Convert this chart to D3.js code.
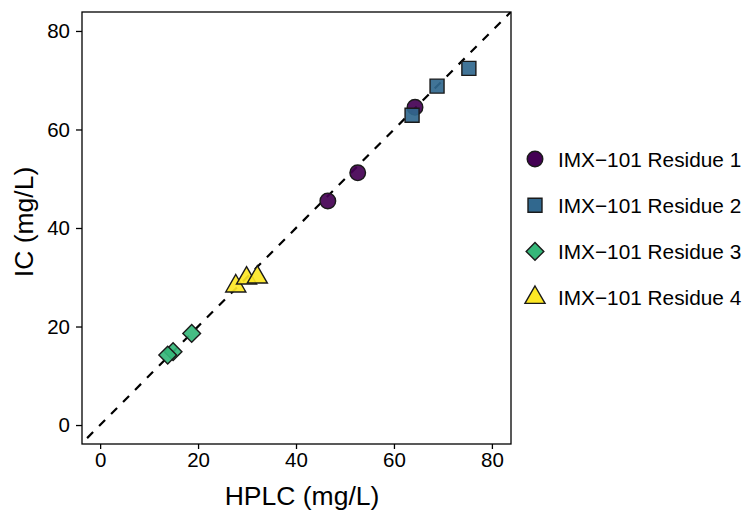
<!DOCTYPE html>
<html>
<head>
<meta charset="utf-8">
<script src="https://cdn.jsdelivr.net/npm/d3@7"></script>
<style>
  body { margin: 0; background: #fff; }
  svg text { font-family: "Liberation Sans", Arial, sans-serif; }
</style>
</head>
<body>
<svg width="747" height="510"></svg>
<script>
// data
const seriesNames = ["IMX\u2212101 Residue 1", "IMX\u2212101 Residue 2", "IMX\u2212101 Residue 3", "IMX\u2212101 Residue 4"]
const seriesColors = ["#440154", "#31688E", "#35B779", "#FDE725"]
const seriesShapes = ["circle", "square", "diamond", "triangle"]
const hplc1 = [46.5, 52.6, 64.3], ic1 = [45.5, 51.2, 64.5]
const hplc2 = [63.7, 68.8, 75.3], ic2 = [62.9, 68.8, 72.4]
const hplc3 = [18.7, 14.9, 13.8], ic3 = [18.6, 14.9, 14.2]
const hplc4 = [27.7, 29.9, 32.1], ic4 = [28.2, 29.8, 30.0]
const xTicks = [0, 20, 40, 60, 80]
const yTicks = [0, 20, 40, 60, 80]

const series = [[hplc1, ic1], [hplc2, ic2], [hplc3, ic3], [hplc4, ic4]]

let svg = d3.select("svg")
//panel
let L = 82, T = 12, R = 511, B = 444
let x = d3.scaleLinear().domain([-3.7, 83.9]).range([L, R])
let y = d3.scaleLinear().domain([-3.85, 83.85]).range([B, T])

//axes
let gx = svg.append("g").attr("transform", `translate(0,${B})`)
  .call(d3.axisBottom(x).tickValues(xTicks).tickSize(5).tickPadding(3))
let gy = svg.append("g").attr("transform", `translate(${L},0)`)
  .call(d3.axisLeft(y).tickValues(yTicks).tickSize(6).tickPadding(6))
;[gx, gy].forEach(g => {
  g.select(".domain").remove()
  g.selectAll(".tick line").attr("stroke", "#000").attr("stroke-width", 1.3)
  g.selectAll(".tick text").attr("fill", "#000").attr("font-size", 20.5)
})

//clip + dashed identity line
svg.append("clipPath").attr("id", "clip").append("rect")
  .attr("x", L).attr("y", T).attr("width", R - L).attr("height", B - T)
svg.append("line").attr("clip-path", "url(#clip)")
  .attr("x1", x(-10)).attr("y1", y(-10)).attr("x2", x(90)).attr("y2", y(90))
  .attr("stroke", "#000").attr("stroke-width", 2.2).attr("stroke-dasharray", "8.5 8.5")

//symbols
const sym = {
  circle: d3.symbol().type(d3.symbolCircle).size(Math.PI * 7.8 * 7.8),
  square: d3.symbol().type(d3.symbolSquare).size(14 * 14),
  diamond: d3.symbol().type(d3.symbolSquare).size(12.5 * 12.5),
  triangle: d3.symbol().type(d3.symbolTriangle).size(175)
}
const rot = s => s == "diamond" ? " rotate(45)" : ""

let pts = svg.append("g")
series.forEach((s, k) => {
  let data = s[0].map((v, i) => [v, s[1][i]])
  pts.selectAll(null).data(data).enter().append("path")
    .attr("d", sym[seriesShapes[k]]())
    .attr("transform", d => `translate(${x(d[0])},${y(d[1])})${rot(seriesShapes[k])}`)
    .attr("fill", seriesColors[k]).attr("fill-opacity", 0.92)
    .attr("stroke", "#1a1a1a").attr("stroke-width", 1.4)
})

//panel border
svg.append("rect").attr("x", L).attr("y", T).attr("width", R - L).attr("height", B - T)
  .attr("fill", "none").attr("stroke", "#000").attr("stroke-width", 1.3)

//axis titles
svg.append("text").attr("x", 302).attr("y", 505).attr("text-anchor", "middle")
  .attr("font-size", 26.5).text("HPLC (mg/L)")
svg.append("text").attr("transform", `translate(33,222) rotate(-90)`)
  .attr("text-anchor", "middle").attr("font-size", 26.5).text("IC (mg/L)")

//legend
let lg = svg.append("g")
seriesNames.forEach((n, k) => {
  let cy = 159 + k * 46.2
  lg.append("path").attr("d", sym[seriesShapes[k]]())
    .attr("transform", `translate(535,${cy})${rot(seriesShapes[k])}`)
    .attr("fill", seriesColors[k]).attr("stroke", "#1a1a1a").attr("stroke-width", 1.4)
  lg.append("text").attr("x", 558).attr("y", cy + 7.5).attr("font-size", 20.8).text(n)
})
</script>
</body>
</html>
